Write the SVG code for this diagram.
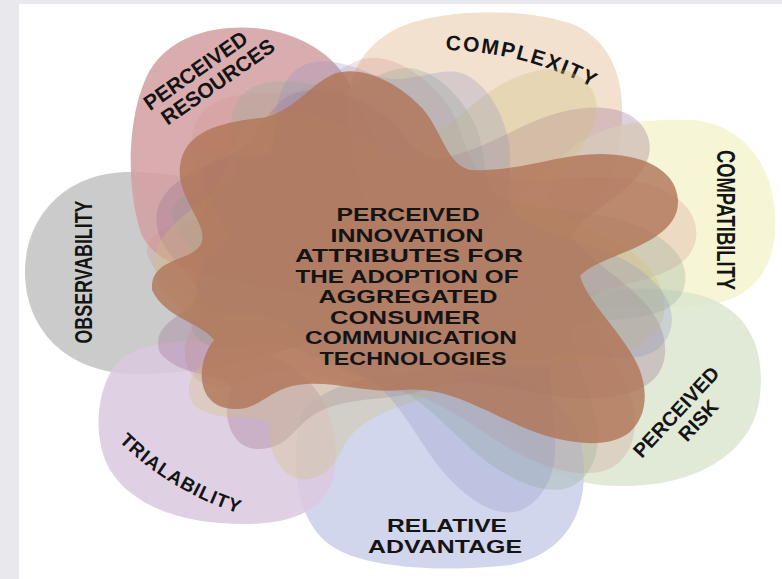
<svg xmlns="http://www.w3.org/2000/svg" width="782" height="579" viewBox="0 0 782 579">
  <defs>
    <style>
      .lbl { font-family: "Liberation Sans", Arial, Helvetica, sans-serif; font-weight: 700; fill: #141414; }
      .petal { stroke: none; fill-opacity: 0.86; }
      .inner { stroke: none; }
    </style>
    <path id="core" d="M 152,290 C 165,318 200,322 214,340 C 196,362 196,402 226,408 C 256,414 264,393 292,386 C 330,378 362,394 402,390 C 442,386 472,404 520,426 C 556,442 606,452 630,432 C 650,414 648,382 634,358 C 616,326 588,302 580,276 C 598,254 680,246 678,200 C 676,168 640,154 600,154 C 558,154 520,172 470,170 C 446,164 442,130 422,108 C 398,82 360,64 334,74 C 310,84 292,114 260,118 C 224,122 184,130 180,166 C 176,200 212,226 200,246 C 188,262 150,258 152,290 Z"/>
    <path id="p-complexity" d="M 434,50 A 330,330 0 0 1 604,94"/>
    <path id="p-trialability" d="M 108,430 A 300,300 0 0 0 254,518"/>
  </defs>

  <rect x="0" y="0" width="782" height="579" fill="#e9e9ed"/>
  <rect x="19" y="4" width="763" height="575" fill="#ffffff"/>

  <g id="node-observability">
    <path class="petal" fill="#c2c2c2" d="M 130,172 C 62,172 25,220 25,272 C 25,328 65,373 135,374 C 215,375 300,350 360,320 C 400,300 400,260 360,240 C 300,205 210,172 130,172 Z"/>
    <text class="lbl" transform="translate(92,272) rotate(-90)" text-anchor="middle" font-size="24" textLength="143" lengthAdjust="spacingAndGlyphs">OBSERVABILITY</text>
  </g>

  <g id="node-perceived-resources">
    <path class="petal" fill="#d39fa2" d="M 140,230 C 125,180 128,110 150,70 C 172,35 215,25 255,28 C 300,32 335,55 350,85 C 375,135 400,200 410,260 C 400,300 330,300 280,290 C 210,278 152,268 140,230 Z"/>
    <g transform="translate(208,78) rotate(-35)">
      <text class="lbl" x="-6" y="-6" text-anchor="middle" font-size="21">PERCEIVED</text>
      <text class="lbl" x="6" y="16" text-anchor="middle" font-size="21">RESOURCES</text>
    </g>
  </g>

  <g id="node-complexity">
    <path class="petal" fill="#f0dcc6" d="M 350,140 C 340,90 355,45 405,25 C 450,8 530,8 575,25 C 612,42 624,80 622,120 C 620,170 600,215 560,250 C 520,290 440,300 410,280 C 380,250 358,190 350,140 Z"/>
    <text class="lbl" font-size="21" letter-spacing="1.8"><textPath href="#p-complexity" startOffset="50%" text-anchor="middle">COMPLEXITY</textPath></text>
  </g>

  <g id="node-compatibility">
    <path class="petal" fill="#f4f3cf" d="M 570,150 C 600,125 640,118 690,120 C 740,123 772,160 775,215 C 778,265 755,300 705,305 C 650,310 560,310 470,290 C 450,260 520,190 570,150 Z"/>
    <text class="lbl" transform="translate(717,220) rotate(90)" text-anchor="middle" font-size="26" textLength="140" lengthAdjust="spacingAndGlyphs">COMPATIBILITY</text>
  </g>

  <g id="node-perceived-risk">
    <path class="petal" fill="#dbe7cf" d="M 480,330 C 540,290 640,280 700,295 C 750,310 765,350 760,395 C 755,450 700,487 620,486 C 560,485 520,460 500,420 C 480,385 450,350 480,330 Z"/>
    <g transform="translate(676,412) rotate(-47)">
      <text class="lbl" x="0" y="7" text-anchor="middle" font-size="20">PERCEIVED</text>
      <text class="lbl" x="9" y="29" text-anchor="middle" font-size="20">RISK</text>
    </g>
  </g>

  <g id="node-relative-advantage">
    <path class="petal" fill="#cbcfe9" d="M 300,420 C 290,460 295,520 330,545 C 365,570 450,572 510,565 C 560,555 585,520 584,470 C 583,420 560,390 500,375 C 420,360 310,380 300,420 Z"/>
    <text class="lbl" x="447" y="532" text-anchor="middle" font-size="18" textLength="120" lengthAdjust="spacingAndGlyphs">RELATIVE</text>
    <text class="lbl" x="445" y="553" text-anchor="middle" font-size="18" textLength="154" lengthAdjust="spacingAndGlyphs">ADVANTAGE</text>
  </g>

  <g id="node-trialability">
    <path class="petal" fill="#dbc8e0" d="M 120,360 C 95,385 92,440 110,470 C 135,510 190,525 250,524 C 300,523 330,505 335,470 C 340,420 320,380 280,360 C 230,335 150,335 120,360 Z"/>
    <text class="lbl" font-size="19" letter-spacing="1"><textPath href="#p-trialability" startOffset="50%" text-anchor="middle">TRIALABILITY</textPath></text>
  </g>

  <g id="connectors"></g>

  <g id="node-center">
    <use href="#core" class="inner" fill="#d09090" fill-opacity="0.26" transform="translate(410,290) rotate(8) scale(1.03) translate(-410,-290)"/>
    <use href="#core" class="inner" fill="#98ae98" fill-opacity="0.32" transform="translate(410,290) rotate(18) scale(0.97) translate(-410,-290)"/>
    <use href="#core" class="inner" fill="#9c7090" fill-opacity="0.32" transform="translate(410,290) rotate(-14) scale(1.0) translate(-410,-290)"/>
    <use href="#core" class="inner" fill="#cfc27c" fill-opacity="0.32" transform="translate(410,290) rotate(-28) scale(0.95,1.02) translate(-410,-290)"/>
    <use href="#core" class="inner" fill="#8890c0" fill-opacity="0.26" transform="translate(410,290) rotate(30) scale(0.92,0.98) translate(-410,-290)"/>
    <use href="#core" fill="#b07456" fill-opacity="0.8"/>
    <g class="lbl" font-size="18" text-anchor="middle">
      <text x="408" y="221" textLength="143" lengthAdjust="spacingAndGlyphs">PERCEIVED</text>
      <text x="407" y="242" textLength="153" lengthAdjust="spacingAndGlyphs">INNOVATION</text>
      <text x="409" y="262" textLength="228" lengthAdjust="spacingAndGlyphs">ATTRIBUTES FOR</text>
      <text x="407" y="283" textLength="223" lengthAdjust="spacingAndGlyphs">THE ADOPTION OF</text>
      <text x="408" y="303" textLength="179" lengthAdjust="spacingAndGlyphs">AGGREGATED</text>
      <text x="405" y="324" textLength="150" lengthAdjust="spacingAndGlyphs">CONSUMER</text>
      <text x="411" y="344" textLength="212" lengthAdjust="spacingAndGlyphs">COMMUNICATION</text>
      <text x="413" y="365" textLength="187" lengthAdjust="spacingAndGlyphs">TECHNOLOGIES</text>
    </g>
  </g>
</svg>
